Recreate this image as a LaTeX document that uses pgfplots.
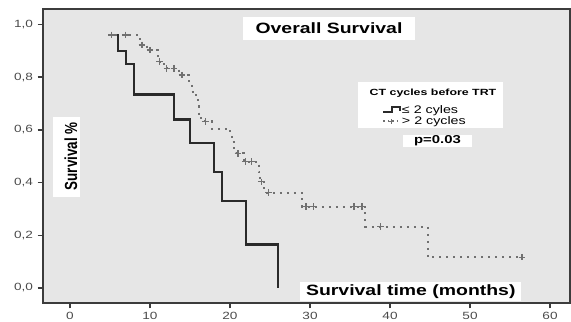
\documentclass[border=0pt]{standalone}
\usepackage{fontspec}
\setmainfont{Liberation Sans}
\usepackage{graphicx}
\usepackage{pgfplots}
\pgfplotsset{compat=1.18}
\definecolor{bggray}{HTML}{E6E6E6}
\definecolor{axgray}{HTML}{3C3C3C}
\definecolor{solidc}{HTML}{2A2A2A}
\definecolor{dotc}{HTML}{707070}
\definecolor{tickc}{HTML}{4A4A4A}
\begin{document}
\begin{tikzpicture}
\begin{axis}[
  set layers,
  at={(43bp,19bp)}, anchor=south west,
  scale only axis, width=527bp, height=294bp,
  xmin=-3.375, xmax=62.5, ymin=-0.0569, ymax=1.0588,
  axis background/.style={fill=bggray},
  axis line style={axgray, line width=1.6bp},
  xtick={0,10,20,30,40,50,60},
  ytick={0,0.2,0.4,0.6,0.8,1.0},
  tick align=outside, tick pos=left, major tick length=5.5bp,
  tick style={axgray, line width=1.4bp},
  /pgf/number format/assume math mode=true,
  tick label style={font=\fontsize{10.5}{12}\selectfont, text=tickc, xscale=1.3},
  yticklabel style={/pgf/number format/.cd, fixed, fixed zerofill, precision=1, use comma},
  legend style={at={(axis cs:38.9,0.700)}, anchor=north west, draw=none, fill=none,
    font=\fontsize{11}{11}\selectfont, row sep=0pt, inner sep=1pt, nodes={inner sep=0.8pt}},
  legend cell align=left,
]
% annotation boxes
\fill[white] (axis cs:21.625,1.0285) rectangle (axis cs:43.125,0.941);
\node[font=\fontsize{15}{15}\selectfont\bfseries, xscale=1.3] at (axis cs:32.375,0.985) {Overall Survival};
\fill[white] (axis cs:-2.125,0.649) rectangle (axis cs:1.25,0.345);
\node[font=\fontsize{13.5}{13.5}\selectfont\bfseries, xscale=1.3, rotate=90] at (axis cs:0.1,0.5) {Survival \%};
\fill[white] (axis cs:28.75,0.0228) rectangle (axis cs:56.375,-0.0493);
\node[font=\fontsize{15}{15}\selectfont\bfseries, xscale=1.3] at (axis cs:42.6,-0.013) {Survival time (months)};
\fill[white] (axis cs:36,0.7818) rectangle (axis cs:54.125,0.607);
\node[font=\fontsize{9}{9}\selectfont\bfseries, xscale=1.38] at (axis cs:45.375,0.740) {CT cycles before TRT};
\fill[white] (axis cs:41.625,0.5806) rectangle (axis cs:50.25,0.535);
\node[font=\fontsize{11.5}{11.5}\selectfont\bfseries, xscale=1.3] at (axis cs:45.94,0.558) {p=0.03};

% <= 2 cycles
\addplot[solidc, line width=2.6bp, const plot, mark=none,
  legend image code/.code={\draw[solidc, line width=1.8bp] (0bp,-2bp) -- (9bp,-2bp) -- (9bp,3bp) -- (17bp,3bp) -- (17bp,-1bp);}]
  coordinates {(5.0,0.96) (6.0,0.90) (7.0,0.85) (8.0,0.735) (13.0,0.64) (15.0,0.55) (18.0,0.44) (19.0,0.33) (22.0,0.165) (26.0,0.0)};
\addlegendentry{\scalebox{1.3}[1]{≤ 2 cyles}}
% > 2 cycles
\addplot[dotc, line width=2bp, dash pattern=on 2bp off 5bp, const plot, mark=none, forget plot]
  coordinates {(4.8,0.96) (8.8,0.922) (9.6,0.903) (11.0,0.859) (11.8,0.834) (13.6,0.808) (14.9,0.775) (15.2,0.745) (15.8,0.72) (16.0,0.69) (16.1,0.66) (16.4,0.632) (17.7,0.605) (20.0,0.58) (20.2,0.555) (20.5,0.53) (20.7,0.511) (21.7,0.479) (23.6,0.44) (23.8,0.403) (24.3,0.362) (29.0,0.309) (36.9,0.233) (44.7,0.117) (56.5,0.117)};
\addplot[dotc, only marks, mark=+, mark size=3.3bp, line width=1.2bp, forget plot]
  coordinates {(5.2,0.96) (6.9,0.96) (9.0,0.922) (10.0,0.903) (11.2,0.859) (12.1,0.834) (13.0,0.834) (14.0,0.808) (16.9,0.632) (21.0,0.511) (21.9,0.479) (22.7,0.479) (23.9,0.403) (24.8,0.362) (29.5,0.309) (30.4,0.309) (35.5,0.309) (36.5,0.309) (38.8,0.233) (56.5,0.117)};
\addlegendimage{legend image code/.code={
  \draw[dotc, line width=1.6bp, dash pattern=on 1.5bp off 3bp] (0bp,0bp) -- (17bp,0bp);
  \draw[dotc, line width=1bp] (8bp,-2.5bp) -- (8bp,2.5bp) (5.5bp,0bp) -- (10.5bp,0bp);}}
\addlegendentry{\scalebox{1.3}[1]{> 2 cycles}}
\end{axis}
\pgfresetboundingbox
\path[use as bounding box] (0bp,0bp) rectangle (571bp,322bp);
\end{tikzpicture}
\end{document}
